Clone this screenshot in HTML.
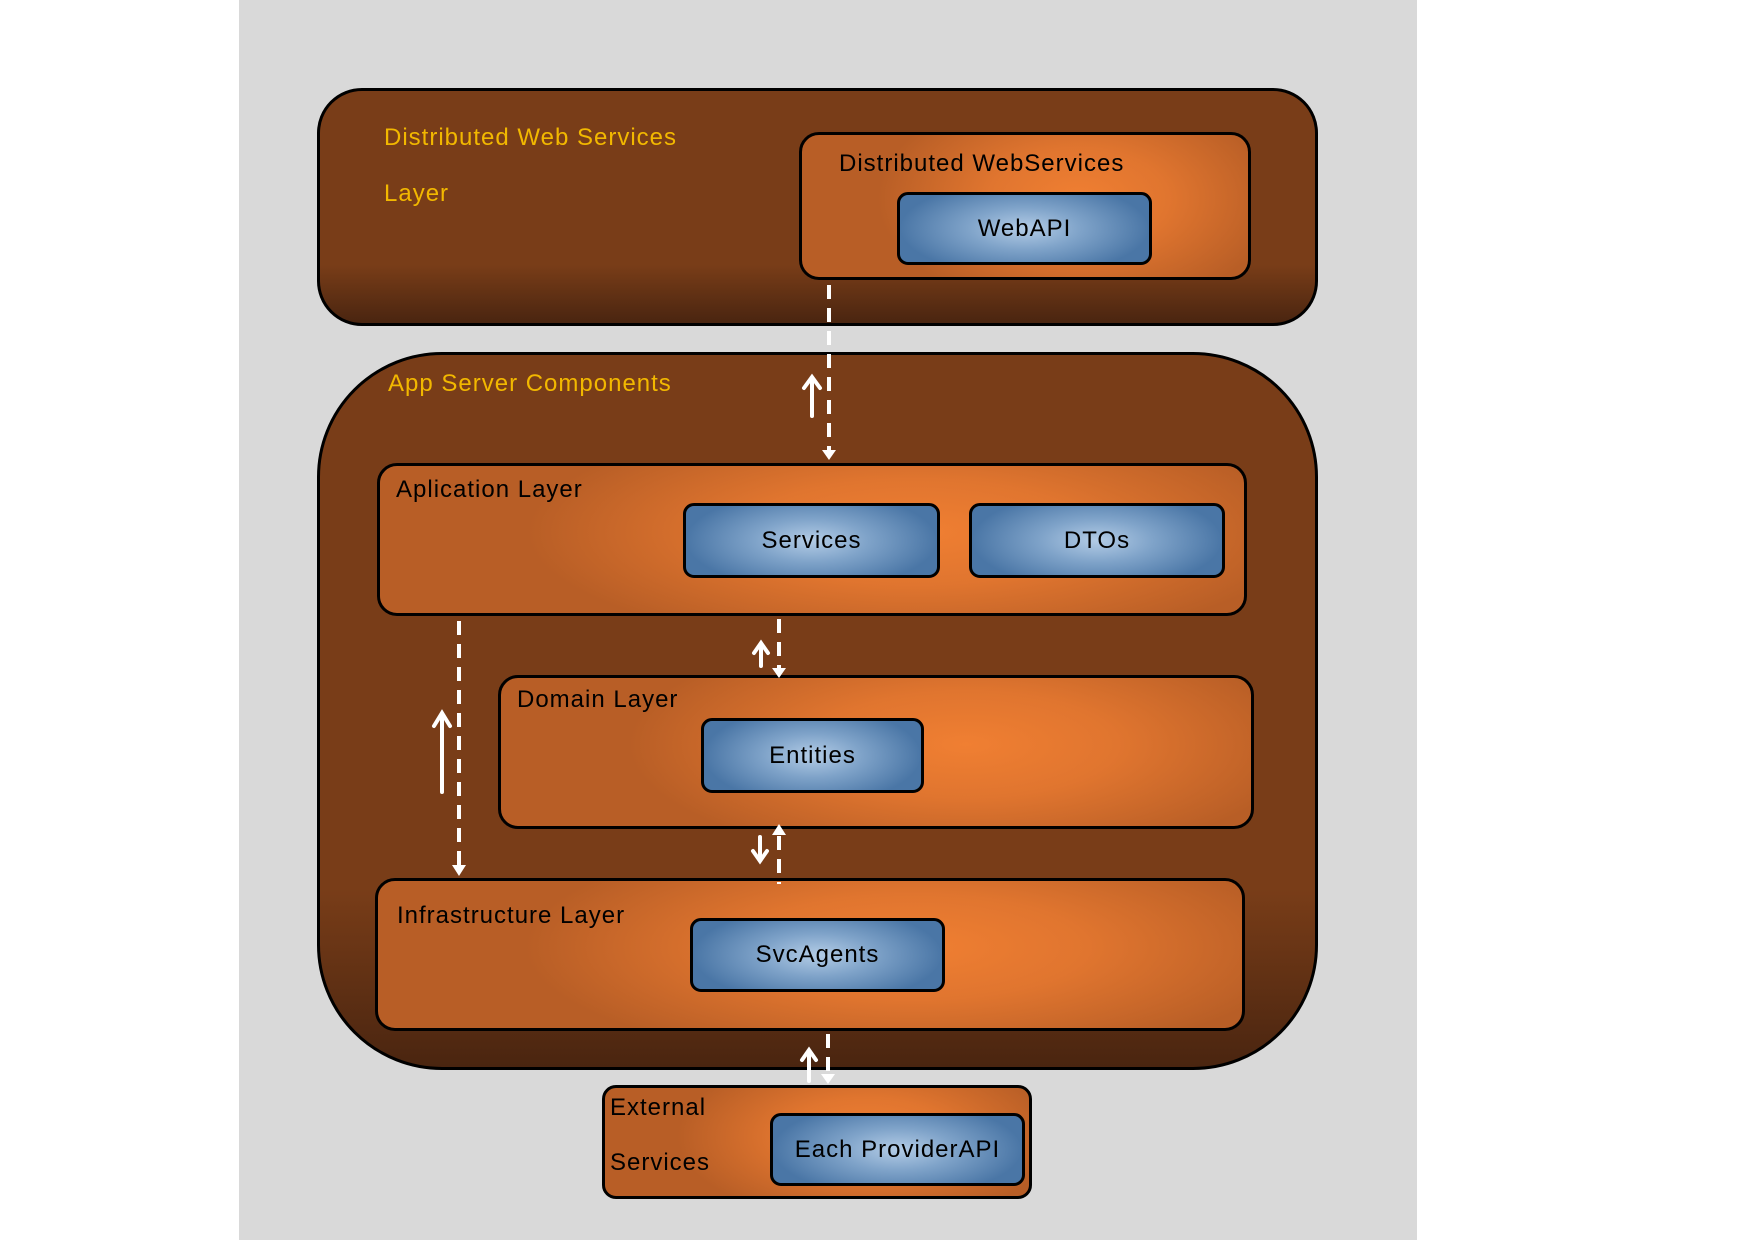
<!DOCTYPE html>
<html><head><meta charset="utf-8"><style>
html,body{margin:0;padding:0;background:#fff;}
#c{position:relative;width:1754px;height:1240px;overflow:hidden;background:#fff;font-family:"Liberation Sans","DejaVu Sans",sans-serif;}
.bg{position:absolute;left:239px;top:0;width:1178px;height:1240px;background:#d9d9d9;}
.b{position:absolute;box-sizing:border-box;border:3px solid #000;}
.brown{background:linear-gradient(to bottom,#793d18 0%,#793d18 75%,#4a2510 100%);}
.or{background:radial-gradient(ellipse 45% 80% at 62% 45%,#f07f32 0%,#e0752f 45%,#b85e26 100%);border-radius:20px;}
.bl{background:radial-gradient(ellipse 50% 70% at 50% 50%,#b3cce6 0%,#7fa3c9 45%,#4a76a6 100%);border-radius:11px;display:flex;align-items:center;justify-content:center;font-size:24px;color:#000;letter-spacing:1px;}
.t{position:absolute;font-size:24px;color:#000;white-space:nowrap;letter-spacing:1px;}
.y{color:#f2b800;}
</style></head><body><div id="c">
<div class="bg"></div>
<div class="b brown" style="left:317px;top:88px;width:1001px;height:238px;border-radius:45px;"></div>
<div class="t y" style="left:384px;top:124px;">Distributed Web Services</div>
<div class="t y" style="left:384px;top:180px;">Layer</div>
<div class="b or" style="left:799px;top:132px;width:452px;height:148px;"></div>
<div class="t" style="left:839px;top:150px;">Distributed WebServices</div>
<div class="b bl" style="left:897px;top:192px;width:255px;height:73px;">WebAPI</div>

<div class="b brown" style="left:317px;top:352px;width:1001px;height:718px;border-radius:125px;"></div>
<div class="t y" style="left:388px;top:370px;">App Server Components</div>

<div class="b or" style="left:377px;top:463px;width:870px;height:153px;"></div>
<div class="t" style="left:396px;top:476px;">Aplication Layer</div>
<div class="b bl" style="left:683px;top:503px;width:257px;height:75px;">Services</div>
<div class="b bl" style="left:969px;top:503px;width:256px;height:75px;">DTOs</div>

<div class="b or" style="left:498px;top:675px;width:756px;height:154px;"></div>
<div class="t" style="left:517px;top:686px;">Domain Layer</div>
<div class="b bl" style="left:701px;top:718px;width:223px;height:75px;">Entities</div>

<div class="b or" style="left:375px;top:878px;width:870px;height:153px;"></div>
<div class="t" style="left:397px;top:902px;">Infrastructure Layer</div>
<div class="b bl" style="left:690px;top:918px;width:255px;height:74px;">SvcAgents</div>

<div class="b or" style="left:602px;top:1085px;width:430px;height:114px;border-radius:14px;"></div>
<div class="t" style="left:610px;top:1094px;">External</div>
<div class="t" style="left:610px;top:1149px;">Services</div>
<div class="b bl" style="left:770px;top:1113px;width:255px;height:73px;">Each ProviderAPI</div>

<svg style="position:absolute;left:0;top:0" width="1754" height="1240">
<g stroke="#fff" stroke-width="4" fill="none" stroke-dasharray="14,9">
<line x1="829" y1="285" x2="829" y2="452"/>
<line x1="779" y1="619" x2="779" y2="670"/>
<line x1="459" y1="621" x2="459" y2="866"/>
<line x1="779" y1="836" x2="779" y2="884"/>
<line x1="828" y1="1034" x2="828" y2="1076"/>
</g>
<g fill="#fff">
<polygon points="822,450 836,450 829,460"/>
<polygon points="772,668 786,668 779,678"/>
<polygon points="452,865 466,865 459,876"/>
<polygon points="772,835 786,835 779,824"/>
<polygon points="821,1074 835,1074 828,1084"/>
</g>
<g stroke="#fff" stroke-width="4" fill="none" stroke-linecap="round">
<line x1="812" y1="416" x2="812" y2="378"/><polyline points="804,388 812,377 820,388"/>
<line x1="761" y1="666" x2="761" y2="644"/><polyline points="754,653 761,643 768,653"/>
<line x1="442" y1="792" x2="442" y2="714"/><polyline points="434,726 442,713 450,726"/>
<line x1="760" y1="837" x2="760" y2="860"/><polyline points="753,851 760,861 767,851"/>
<line x1="809" y1="1081" x2="809" y2="1051"/><polyline points="802,1060 809,1050 816,1060"/>
</g>
</svg>
</div></body></html>
